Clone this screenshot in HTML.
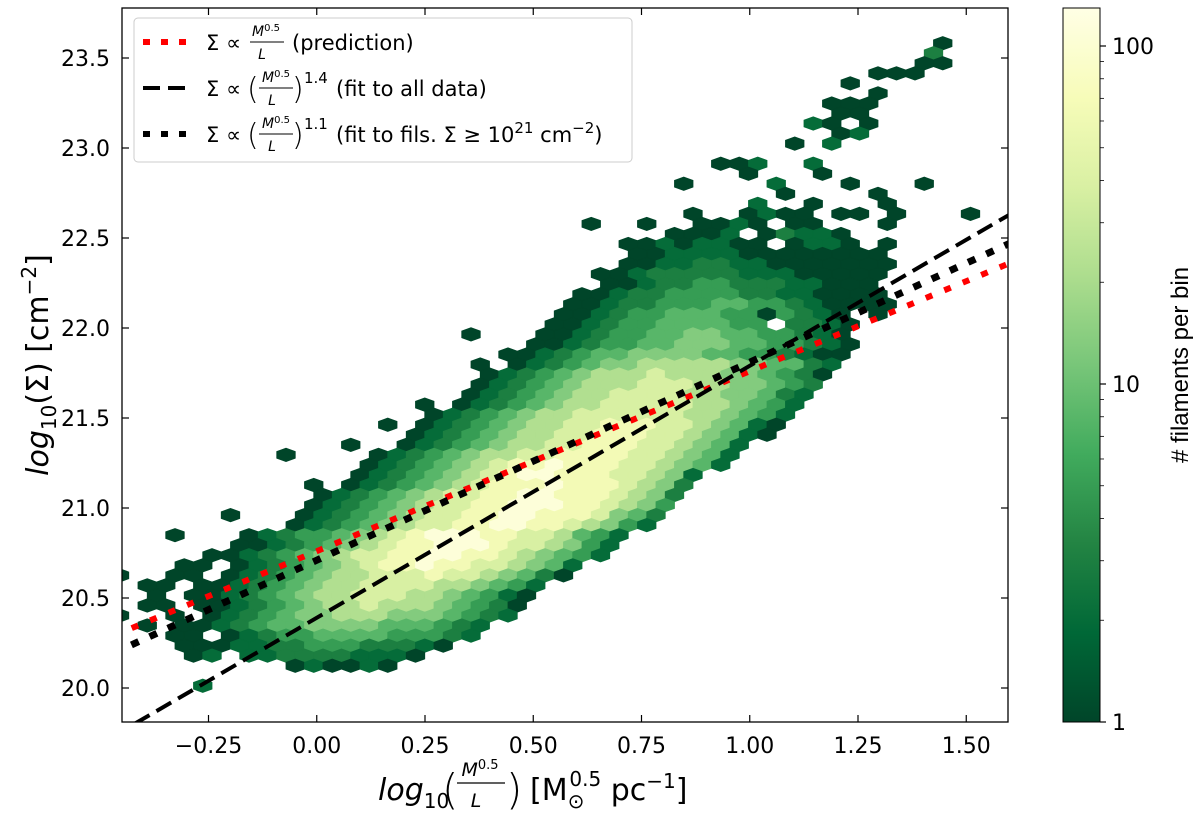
<!DOCTYPE html>
<html><head><meta charset="utf-8"><title>Hexbin Sigma vs M/L</title>
<style>
html,body{margin:0;padding:0;background:#fff;}
svg{display:block;font-family:"DejaVu Sans","Liberation Sans",sans-serif;}
</style></head>
<body>
<svg id="chart" width="1200" height="822" viewBox="0 0 1200 822" xmlns="http://www.w3.org/2000/svg">
<defs>
<clipPath id="plotclip"><rect x="122" y="8" width="886" height="714"/></clipPath>
<linearGradient id="cbgrad" x1="0" y1="1" x2="0" y2="0">
<stop offset="0" stop-color="#004529"/><stop offset="0.125" stop-color="#006837"/><stop offset="0.25" stop-color="#238443"/><stop offset="0.375" stop-color="#41ab5d"/><stop offset="0.5" stop-color="#78c679"/><stop offset="0.625" stop-color="#addd8e"/><stop offset="0.75" stop-color="#d9f0a3"/><stop offset="0.875" stop-color="#f7fcb9"/><stop offset="1" stop-color="#ffffe5"/>
</linearGradient>
</defs>
<g id="hexes" clip-path="url(#plotclip)"></g>
<g id="lines" clip-path="url(#plotclip)"></g>
<rect x="122" y="8" width="886" height="714" fill="none" stroke="#000" stroke-width="1.3"/>
<g id="ticks"></g>

<!-- legend -->
<g>
<rect x="134" y="18" width="498" height="144" rx="4" fill="#fff" fill-opacity="0.85" stroke="#cccccc" stroke-width="1"/>
<g>
<line x1="143" y1="42" x2="190" y2="42" stroke="#ff0000" stroke-width="6" stroke-dasharray="7 11"/>
<text x="206" y="50" font-size="21">Σ ∝</text>
<text x="266" y="36" font-size="14" text-anchor="middle"><tspan font-style="italic">M</tspan><tspan font-size="10" dy="-5">0.5</tspan></text>
<line x1="250" y1="42" x2="284" y2="42" stroke="#000" stroke-width="1"/>
<text x="262" y="59" font-size="14" font-style="italic" text-anchor="middle">L</text>
<text x="292" y="50" font-size="21">(prediction)</text>
</g>
<g>
<line x1="143" y1="88" x2="190" y2="88" stroke="#000" stroke-width="4" stroke-dasharray="17 8"/>
<text x="206" y="96" font-size="21">Σ ∝</text>
<text x="247" y="99" font-size="30" font-weight="200">(</text>
<text x="276" y="82" font-size="14" text-anchor="middle"><tspan font-style="italic">M</tspan><tspan font-size="10" dy="-5">0.5</tspan></text>
<line x1="259" y1="88" x2="293" y2="88" stroke="#000" stroke-width="1"/>
<text x="272" y="105" font-size="14" font-style="italic" text-anchor="middle">L</text>
<text x="292" y="99" font-size="30" font-weight="200">)</text>
<text x="304" y="83" font-size="15">1.4</text>
<text x="336" y="96" font-size="21">(fit to all data)</text>
</g>
<g>
<line x1="143" y1="134" x2="190" y2="134" stroke="#000" stroke-width="6" stroke-dasharray="7 11"/>
<text x="206" y="142" font-size="21">Σ ∝</text>
<text x="247" y="145" font-size="30" font-weight="200">(</text>
<text x="276" y="128" font-size="14" text-anchor="middle"><tspan font-style="italic">M</tspan><tspan font-size="10" dy="-5">0.5</tspan></text>
<line x1="259" y1="134" x2="293" y2="134" stroke="#000" stroke-width="1"/>
<text x="272" y="151" font-size="14" font-style="italic" text-anchor="middle">L</text>
<text x="292" y="145" font-size="30" font-weight="200">)</text>
<text x="304" y="129" font-size="15">1.1</text>
<text x="336" y="142" font-size="21">(fit to fils. Σ ≥ 10<tspan font-size="15" dy="-9">21</tspan><tspan dy="9"> cm</tspan><tspan font-size="15" dy="-9">−2</tspan><tspan dy="9">)</tspan></text>
</g>
</g>

<!-- axis labels -->
<text transform="translate(48,365) rotate(-90)" text-anchor="middle" font-size="30"><tspan font-style="italic">log</tspan><tspan font-size="20" dy="8">10</tspan><tspan dy="-8">(Σ) [cm</tspan><tspan font-size="20" dy="-12">−2</tspan><tspan dy="12">]</tspan></text>
<g>
<text x="378" y="800" font-size="30"><tspan font-style="italic">log</tspan><tspan font-size="20" dy="8">10</tspan></text>
<text x="442" y="804" font-size="42" font-weight="200">(</text>
<text x="480" y="776" font-size="19" text-anchor="middle"><tspan font-style="italic">M</tspan><tspan font-size="13" dy="-7">0.5</tspan></text>
<line x1="457" y1="783" x2="505" y2="783" stroke="#000" stroke-width="1.2"/>
<text x="476" y="807" font-size="19" font-style="italic" text-anchor="middle">L</text>
<text x="506" y="804" font-size="42" font-weight="200">)</text>
<text x="530" y="800" font-size="30">[M<tspan font-size="20" dy="8">⊙</tspan><tspan font-size="20" dx="-15" dy="-22">0.5</tspan><tspan dy="14"> pc</tspan><tspan font-size="20" dy="-12">−1</tspan><tspan dy="12">]</tspan></text>
</g>

<!-- colorbar -->
<g>
<rect x="1063" y="8" width="37" height="714" fill="url(#cbgrad)" stroke="#000" stroke-width="1"/>
<g id="cbticks"></g>
<text transform="translate(1188,365) rotate(-90)" text-anchor="middle" font-size="24" font-family="Liberation Sans, sans-serif"># filaments per bin</text>
</g>

<script>
// ---- data ----
const xTickValues = [-0.25, 0.00, 0.25, 0.50, 0.75, 1.00, 1.25, 1.50];
const xTickLabels = ["−0.25", "0.00", "0.25", "0.50", "0.75", "1.00", "1.25", "1.50"];
const yTickValues = [20.0, 20.5, 21.0, 21.5, 22.0, 22.5, 23.0, 23.5];
const yTickLabels = ["20.0", "20.5", "21.0", "21.5", "22.0", "22.5", "23.0", "23.5"];
const cbTickValues = [1, 10, 100];
const cbTickLabels = ["1", "10", "100"];
const lineNames = ["prediction", "fit-all-data", "fit-fils"];
const lineSlopes = [1.0, 1.4, 1.1];
const lineIntercepts = [20.76, 20.39, 20.71];
const levelCounts = {"1":1,"2":2,"3":3,"4":5,"5":8,"6":13,"7":22,"8":38,"9":65,"a":110};
// hexbin rows: [row index, first column, counts encoded per cell]
const hexRows = [
[4,50,"1"],[5,50,"3"],[6,49,"11"],[7,47,"111"],[8,45,"1"],[9,47,"1"],[10,44,"111"],[11,45,"11"],
[12,43,"21.1"],[13,45,"12"],[14,42,"1.2"],[16,38,"112..2"],[17,40,"1...1"],[18,36,"1....2...1...1"],
[19,42,"1....1"],[20,40,"2..1...1"],[21,37,"1..1211.11.1...1"],[22,31,"1..1..1121.11...1"],
[23,36,"1112.13221"],[24,33,"11212211.1221.1"],[25,34,"11222211111111"],[26,33,"112233221111111"],
[27,32,"1123333322211111"],[28,32,"112334433322111"],[29,31,"11233444433221111"],[30,30,"112334445544321111"],
[31,30,"1123445554414321.1"],[32,29,"112344555544.3321"],[33,25,"1...11234455665544321"],[34,28,"112344556665544321"],
[35,27,"1123455666655443211"],[36,25,"1.123456677777665532"],[37,26,"1234567778777665431"],[38,25,"1234567778887766543"],
[39,25,"1234567788887766532"],[40,22,"1.1234567788888776542"],[41,23,"12345677888888776542"],[42,20,"1.12345677889998876521"],
[43,22,"12345677889998876521"],[44,18,"1..1234567788999887652"],[45,15,"1....12345677889999887652"],[46,19,"1234567899a999887652"],
[47,19,"123456789aa99988762"],[48,16,"1.12345678999a9998763"],[49,17,"12345678899aa9998763"],[50,16,"12345678899aaa998764"],
[51,12,"1...12345678899aa9998653"],[52,15,"12345678899aa9987642"],[53,9,"1...1234456789aaa99887542"],[54,12,"11234567899aaa9887642"],
[55,11,"112345678899aa99876542"],[56,9,"11.1234567899a99887652"],[57,6,"1..11.1234567788898876531"],[58,7,"11.1123456778888776542"],
[59,8,"1.1123456778887765421"],[60,7,"11.112345677877765431"],[61,6,"1..1.12345667776665432"],[62,7,"1.11234556666555432"],
[63,9,"11.12344555544432"],[64,9,"111223344433321"],[65,10,"12.2233332221"],[66,15,"121121"],[68,10,"2"]
];

// ---- scales ----
const X0 = -0.25, XPX0 = 208.5, XK = 433;
const Y0 = 20.0, YPX0 = 688, YK = 180;
function xs(v){ return XPX0 + (v - X0) * XK; }
function ys(v){ return YPX0 - (v - Y0) * YK; }
const CB_BOT = 722, CB_DEC = 338;
function cbs(c){ return CB_BOT - Math.log10(c) * CB_DEC; }
// hex grid (data units)
const HX0 = -0.7119, HDX = 0.042725, HY0 = 23.8053, HDY = 0.05578;
const VMAX = 130;
const ylgn = ["#ffffe5","#f7fcb9","#d9f0a3","#addd8e","#78c679","#41ab5d","#238443","#006837","#004529"];
function hex2rgb(h){ return [parseInt(h.substr(1,2),16),parseInt(h.substr(3,2),16),parseInt(h.substr(5,2),16)]; }
function cmap(c){
  let t = Math.log(c)/Math.log(VMAX); t = Math.max(0, Math.min(1, t));
  let u = (1 - t) * 8; let i = Math.min(7, Math.floor(u)); let f = u - i;
  const a = hex2rgb(ylgn[i]), b = hex2rgb(ylgn[i+1]);
  return "rgb(" + a.map((v,j)=>Math.round(v + (b[j]-v)*f)).join(",") + ")";
}
const NS = "http://www.w3.org/2000/svg";
function mk(tag, attrs){ const e = document.createElementNS(NS, tag); for (const k in attrs) e.setAttribute(k, attrs[k]); return e; }

// ---- hexes ----
const gh = document.getElementById("hexes");
const hw = 18.5/2, hv = 10.04/3, ht = 2*10.04/3;
hexRows.forEach(function(row){
  const r = row[0], k0 = row[1], s = row[2];
  for (let i = 0; i < s.length; i++) {
    const ch = s[i]; if (!(ch in levelCounts)) continue;
    const k = k0 + i;
    const xd = HX0 + k*HDX + (r % 2 === 0 ? HDX/2 : 0);
    const yd = HY0 - r*HDY;
    const cx = xs(xd), cy = ys(yd);
    const col = cmap(levelCounts[ch]);
    const pts = [[cx+hw,cy-hv],[cx+hw,cy+hv],[cx,cy+ht],[cx-hw,cy+hv],[cx-hw,cy-hv],[cx,cy-ht]].map(p=>p[0].toFixed(2)+","+p[1].toFixed(2)).join(" ");
    const p = mk("polygon", {points: pts, fill: col, stroke: col, "stroke-width": "0.8"});
    
    
    gh.appendChild(p);
  }
});

// ---- fit lines ----
const gl = document.getElementById("lines");
const lineStyles = [
  {stroke:"#ff0000", w:6, dash:"7 13"},
  {stroke:"#000000", w:4, dash:"17 8"},
  {stroke:"#000000", w:7, dash:"8 12"}
];
const xa = -0.47, xb = 1.62;
lineSlopes.forEach(function(m, i){
  const b = lineIntercepts[i], st = lineStyles[i];
  const l = mk("line", {x1: xs(xa), y1: ys(m*xa+b), x2: xs(xb), y2: ys(m*xb+b), stroke: st.stroke, "stroke-width": st.w, "stroke-dasharray": st.dash});
  
  
  gl.appendChild(l);
});

// ---- ticks ----
const gt = document.getElementById("ticks");
xTickValues.forEach(function(v, i){
  const x = xs(v);
  const t1 = mk("line", {x1:x, y1:722, x2:x, y2:715, stroke:"#000", "stroke-width":1.2});
  
  
  gt.appendChild(t1);
  const t2 = mk("line", {x1:x, y1:8, x2:x, y2:15, stroke:"#000", "stroke-width":1.2});
  
  
  gt.appendChild(t2);
  const tx = mk("text", {x:x, y:753, "font-size":22, "text-anchor":"middle"});
  tx.textContent = xTickLabels[i];
  
  
  gt.appendChild(tx);
});
yTickValues.forEach(function(v, i){
  const y = ys(v);
  const t1 = mk("line", {x1:122, y1:y, x2:129, y2:y, stroke:"#000", "stroke-width":1.2});
  
  
  gt.appendChild(t1);
  const t2 = mk("line", {x1:1008, y1:y, x2:1001, y2:y, stroke:"#000", "stroke-width":1.2});
  
  
  gt.appendChild(t2);
  const tx = mk("text", {x:110, y:y+8, "font-size":22, "text-anchor":"end"});
  tx.textContent = yTickLabels[i];
  
  
  gt.appendChild(tx);
});

// ---- colorbar ticks ----
const gc = document.getElementById("cbticks");
cbTickValues.forEach(function(v, i){
  const y = cbs(v);
  const t = mk("line", {x1:1100, y1:y, x2:1106, y2:y, stroke:"#000", "stroke-width":1.2});
  
  
  gc.appendChild(t);
  const tx = mk("text", {x:1112, y:y+8, "font-size":22});
  tx.textContent = cbTickLabels[i];
  
  
  gc.appendChild(tx);
});
[2,3,4,5,6,7,8,9,20,30,40,50,60,70,80,90].forEach(function(v){
  const y = cbs(v);
  const t = mk("line", {x1:1100, y1:y, x2:1104, y2:y, stroke:"#000", "stroke-width":0.8});
  
  
  gc.appendChild(t);
});
</script>
</svg>
</body></html>
